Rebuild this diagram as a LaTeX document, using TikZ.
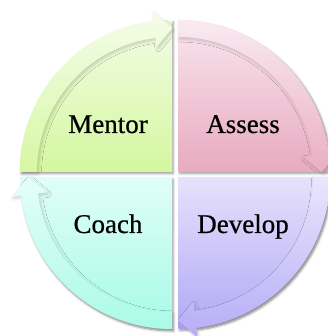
\documentclass[tikz,border=0pt]{standalone}
\usepackage{fontspec}
\setmainfont[FakeBold=0.6]{Liberation Serif}
\usetikzlibrary{shadows.blur}
\definecolor{gTop}{RGB}{242,252,230}
\definecolor{gBot}{RGB}{212,247,158}
\definecolor{pTop}{RGB}{249,230,238}
\definecolor{pBot}{RGB}{232,170,192}
\definecolor{vTop}{RGB}{230,226,252}
\definecolor{vBot}{RGB}{178,168,246}
\definecolor{cTop}{RGB}{224,254,247}
\definecolor{cBot}{RGB}{166,250,230}
\tikzset{
  quadshape/.style={blur shadow={shadow xshift=1.5pt, shadow yshift=-2pt, shadow blur steps=6, shadow opacity=35}},
  bandshape/.style={blur shadow={shadow xshift=1.5pt, shadow yshift=-2pt, shadow blur radius=3pt, shadow blur steps=6, shadow opacity=18}},
  label/.style={font=\fontsize{27}{30}\selectfont, anchor=base, inner sep=0pt, text=black}
}
\newcommand\quadrant[5]{%
  \begin{scope}[shift={(#1,#2)}]
    \path[quadshape, top color=#4, bottom color=#5]
      (0,0) -- ({#3}:152) arc[start angle=#3, end angle=#3-90, radius=152] -- cycle;
    \path[bandshape, top color=#4!85!white, bottom color=#5!95!white]
      ({#3}:152) arc[start angle=#3, end angle=#3-83, radius=152]
      -- ({#3-83}:162) -- ({#3-90}:143.5) -- ({#3-83}:126)
      -- ({#3-83}:135) arc[start angle=#3-83, end angle=#3, radius=135] -- cycle;
  \end{scope}}
\begin{document}
\begin{tikzpicture}[x=1pt,y=1pt]
\useasboundingbox (0,0) rectangle (328,336);
\clip (0,0) rectangle (328,336);
\quadrant{172}{164}{180}{gTop}{gBot}
\quadrant{178}{164}{90}{pTop}{pBot}
\quadrant{178}{159}{0}{vTop}{vBot}
\quadrant{172}{159}{270}{cTop}{cBot}
\node[label] (mentor) at (108,203) {Mentor};
\node[label] (assess) at (243,203) {Assess};
\node[label] (coach) at (108,103) {Coach};
\node[label] (develop) at (243,103) {Develop};
\end{tikzpicture}
\end{document}
